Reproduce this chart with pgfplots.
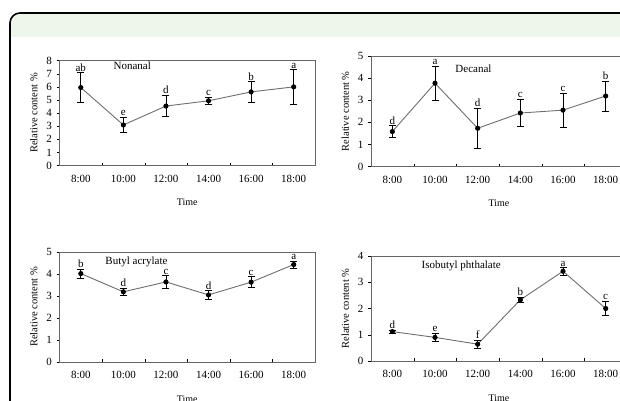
\documentclass[border=0pt]{standalone}
\usepackage{pgfplots}
\pgfplotsset{compat=1.18}
\usepackage{pgfplotstable}
\usepackage{fontspec}
\setmainfont{Liberation Serif}

\definecolor{band}{RGB}{238,246,236}
\definecolor{linegray}{RGB}{110,110,110}

% x y e lab  (x: 0=8:00 ... 5=18:00)
\pgfplotstableread{
x y e lab
0 5.94 1.13 ab
1 3.09 0.59 e
2 4.53 0.82 d
3 4.93 0.28 c
4 5.61 0.78 b
5 5.99 1.30 a
}\nonanal
\pgfplotstableread{
x y e lab
0 1.58 0.26 d
1 3.77 0.76 a
2 1.73 0.92 d
3 2.42 0.62 c
4 2.55 0.77 c
5 3.19 0.68 b
}\decanal
\pgfplotstableread{
x y e lab
0 4.02 0.20 b
1 3.19 0.17 d
2 3.64 0.28 c
3 3.05 0.19 d
4 3.63 0.25 c
5 4.43 0.16 a
}\butyl
\pgfplotstableread{
x y e lab
0 1.12 0.05 d
1 0.90 0.16 e
2 0.64 0.16 f
3 2.33 0.11 b
4 3.42 0.14 a
5 2.00 0.27 c
}\isobutyl

\pgfplotsset{
  panel/.style={
    anchor=south west, scale only axis,
    xmin=-0.5, xmax=5.5, ymin=0,
    xtick={0,...,5},
    xticklabels={8:00,10:00,12:00,14:00,16:00,18:00},
    minor xtick={0.5,1.5,...,4.5},
    tick align=outside, major tick length=3pt, minor tick length=3pt,
    major x tick style={draw=none},
    minor x tick style={yshift=3pt, black},
    y tick style={black},
    xtick pos=bottom, ytick pos=left,
    axis line style={black!60, line width=0.8pt},
    tick label style={font=\fontsize{11}{13}\selectfont},
    xticklabel style={yshift=-3pt},
    yticklabel style={xshift=-1pt},
    /pgf/number format/assume math mode=true,
    xlabel={Time}, ylabel={Relative content \%},
    xlabel style={font=\fontsize{10}{12}\selectfont, yshift=-10pt},
    ylabel style={font=\fontsize{10.5}{12}\selectfont, yshift=2pt},
    clip=false,
  },
  series/.style={
    color=linegray, line width=0.9pt, mark=*, mark size=2.1pt,
    mark options={fill=black, draw=black},
    error bars/.cd, y dir=both, y explicit,
    error bar style={black, line width=0.7pt},
    error mark options={rotate=90, mark size=3.5pt, black, line width=0.7pt},
  },
  letters/.style={
    draw=none, mark=none, nodes near coords, point meta=explicit symbolic,
    every node near coord/.append style={anchor=base, yshift=1.5pt, inner sep=0pt,
      text=black, font=\fontsize{11}{13}\selectfont},
  },
}

\begin{document}
\begin{tikzpicture}[x=1pt, y=1pt]
\useasboundingbox (0,0) rectangle (620,400);
\clip (0,0) rectangle (620,400);
% frame with green header band
\begin{scope}
  \clip[rounded corners=10pt] (10,-30) rectangle (650,387);
  \fill[band] (10,363) rectangle (650,387);
\end{scope}
\draw[line width=1.6pt, rounded corners=10pt] (10,-30) -- (10,387) -- (650,387);

\begin{axis}[panel, at={(59.5pt,234.5pt)}, width=255.5pt, height=105pt,
  ymax=8, ytick={0,...,8}]
  \addplot[series] table[x=x, y=y, y error=e] {\nonanal};
  \addplot[letters] table[x=x, y expr=\thisrow{y}+\thisrow{e}, meta=lab] {\nonanal};
  \node[anchor=west, font=\fontsize{11}{13}\selectfont] at (rel axis cs:0.198,0.948) {Nonanal};
\end{axis}

\begin{axis}[panel, at={(371pt,233.5pt)}, width=256pt, height=110.5pt,
  ymax=5, ytick={0,...,5}]
  \addplot[series] table[x=x, y=y, y error=e] {\decanal};
  \addplot[letters] table[x=x, y expr=\thisrow{y}+\thisrow{e}, meta=lab] {\decanal};
  \node[anchor=west, font=\fontsize{11}{13}\selectfont] at (rel axis cs:0.316,0.882) {Decanal};
\end{axis}

\begin{axis}[panel, at={(59.5pt,38pt)}, width=255.5pt, height=110pt,
  ymax=5, ytick={0,...,5}]
  \addplot[series] table[x=x, y=y, y error=e] {\butyl};
  \addplot[letters] table[x=x, y expr=\thisrow{y}+\thisrow{e}, meta=lab] {\butyl};
  \node[anchor=west, font=\fontsize{11}{13}\selectfont] at (rel axis cs:0.166,0.909) {Butyl acrylate};
\end{axis}

\begin{axis}[panel, at={(371pt,39pt)}, width=256pt, height=105pt,
  ymax=4, ytick={0,...,4}]
  \addplot[series] table[x=x, y=y, y error=e] {\isobutyl};
  \addplot[letters] table[x=x, y expr=\thisrow{y}+\thisrow{e}, meta=lab] {\isobutyl};
  \node[anchor=west, font=\fontsize{11}{13}\selectfont] at (rel axis cs:0.184,0.905) {Isobutyl phthalate};
\end{axis}
\end{tikzpicture}
\end{document}
